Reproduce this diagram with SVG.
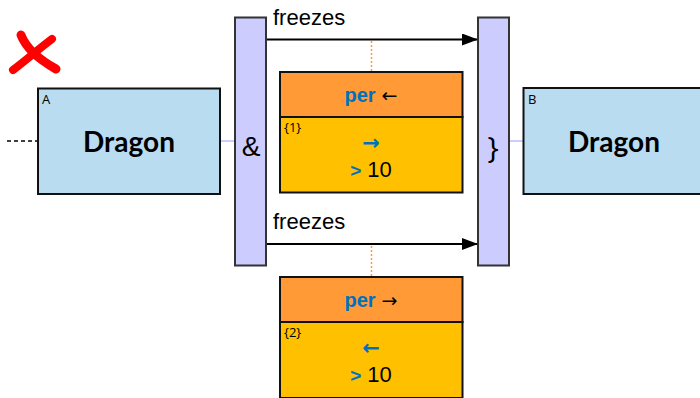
<svg xmlns="http://www.w3.org/2000/svg" width="700" height="398" viewBox="0 0 700 398">
<style>
.node{fill:#B9DCF0;stroke:#111;stroke-width:2}
.bar{fill:#CCCCFF;stroke:#333;stroke-width:2}
.hdr{fill:#FF9A36;stroke:#111;stroke-width:2}
.body{fill:#FFC000;stroke:#111;stroke-width:2}
.drag{font-family:Lato,"Liberation Sans",sans-serif;font-weight:bold;font-size:28px;fill:#000}
.tag{font-family:"Open Sans","Liberation Sans",sans-serif;font-size:13px;fill:#000}
.lbl{font-family:"Liberation Sans",Arial,sans-serif;font-size:22px;fill:#000}
.per{font-family:"Liberation Sans",Arial,sans-serif;font-weight:bold;font-size:20px;fill:#0070C0}
.blk{font-family:"DejaVu Sans",sans-serif;font-size:19px;fill:#000}
.barr{font-family:"DejaVu Sans",sans-serif;font-weight:bold;font-size:21px;fill:#0070C0}
.num{font-family:"Liberation Sans",Arial,sans-serif;font-size:22px;fill:#000}
.gt{font-family:"Liberation Sans",Arial,sans-serif;font-weight:bold;font-size:19px;fill:#0070C0}
.arr{stroke:#000;stroke-width:2;fill:none}
.dot{stroke:#FF9A36;stroke-width:1.5;stroke-dasharray:2 2;fill:none}
.lk{stroke:#CCCCFF;stroke-width:2;fill:none}
</style>
<defs>
<marker id="ah" markerWidth="16" markerHeight="12" refX="16" refY="6" orient="auto" markerUnits="userSpaceOnUse">
<path d="M0,0 L16,6 L0,12 Z" fill="#000"/>
</marker>
</defs>
<g id="connectors">
<line x1="7" y1="141" x2="37" y2="141" stroke="#000" stroke-width="1.5" stroke-dasharray="4 3"/>
<line class="lk" x1="221" y1="141" x2="235" y2="141"/>
<line class="lk" x1="509" y1="141" x2="523" y2="141"/>
<line class="arr" x1="266" y1="39.5" x2="478" y2="39.5" marker-end="url(#ah)"/>
<text class="lbl" x="273" y="25">freezes</text>
<line class="arr" x1="266" y1="244" x2="478" y2="244" marker-end="url(#ah)"/>
<text class="lbl" x="273" y="229">freezes</text>
<line class="dot" x1="371.5" y1="41" x2="371.5" y2="72"/>
<line class="dot" x1="371.5" y1="246" x2="371.5" y2="277"/>
</g>
<g id="cross">
<path d="M21,35 C26,48 40,60 56,69" stroke="#FF0000" stroke-width="9" stroke-linecap="round" fill="none"/>
<path d="M52,39 C40,48 26,60 13,70" stroke="#FF0000" stroke-width="8" stroke-linecap="round" fill="none"/>
</g>
<g id="A">
<rect class="node" x="38" y="88.5" width="182" height="105.5"/>
<text class="tag" x="42" y="104">A</text>
<text class="drag" x="129" y="152" text-anchor="middle">Dragon</text>
</g>
<g id="B">
<rect class="node" x="523.5" y="88" width="182" height="106"/>
<text class="tag" x="528" y="104">B</text>
<text class="drag" x="614" y="152" text-anchor="middle">Dragon</text>
</g>
<g id="and">
<rect class="bar" x="235" y="17.5" width="31" height="248"/>
<text x="251" y="156" text-anchor="middle" font-family="'Liberation Sans',Arial,sans-serif" font-size="28" fill="#000">&amp;</text>
</g>
<g id="brace">
<rect class="bar" x="478" y="17.5" width="31" height="248"/>
<text x="493" y="158" text-anchor="middle" font-family="'Open Sans','Liberation Sans',sans-serif" font-size="30" fill="#000">}</text>
</g>
<g id="p1">
<rect class="hdr" x="280" y="72" width="182.5" height="45"/>
<rect class="body" x="280" y="117" width="182.5" height="75.5"/>
<text x="371" y="102" text-anchor="middle"><tspan class="per">per</tspan><tspan class="blk"> ←</tspan></text>
<text class="tag" x="284" y="132">{1}</text>
<text class="barr" x="371" y="150" text-anchor="middle">→</text>
<text x="371" y="177" text-anchor="middle"><tspan class="gt">&gt;</tspan><tspan class="num"> 10</tspan></text>
</g>
<g id="p2">
<rect class="hdr" x="280" y="277" width="182.5" height="45"/>
<rect class="body" x="280" y="322" width="182.5" height="76"/>
<text x="371" y="307" text-anchor="middle"><tspan class="per">per</tspan><tspan class="blk"> →</tspan></text>
<text class="tag" x="284" y="337">{2}</text>
<text class="barr" x="371" y="355" text-anchor="middle">←</text>
<text x="371" y="382" text-anchor="middle"><tspan class="gt">&gt;</tspan><tspan class="num"> 10</tspan></text>
</g>
</svg>
